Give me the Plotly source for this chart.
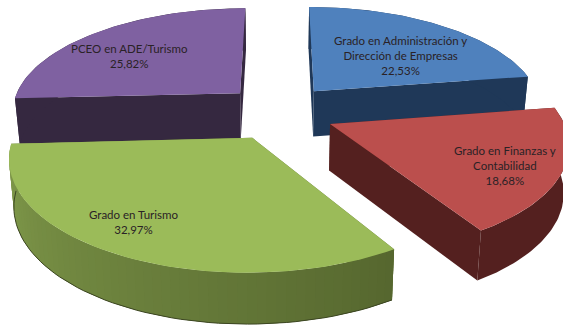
import numpy as np
import plotly.graph_objects as go

labels = ["Grado en Administración y<br>Dirección de Empresas", "Grado en Finanzas y<br>Contabilidad", "Grado en Turismo", "PCEO en ADE/Turismo"]
values = [22.53, 18.68, 32.97, 25.82]
value_text = ["22,53%", "18,68%", "32,97%", "25,82%"]
top_colors = ["#4f81bd", "#bb4f4d", "#9bbb59", "#7f61a1"]
side_colors = ["#1f3858", "#54201f", "#5f7235", "#352840"]
label_pos = [(400, 55), (505, 165), (133, 222), (129, 56)]
draw_order = [3, 0, 2, 1]

# projection of the pie plane
CX, CY = 279, 112
SX, SY, K = 230, 104, 0.16
EXPLODE_X, EXPLODE_Y = 0.24, 0.27
DEPTH, SHRINK = 46, 0.018


def project(u, v, low=False):
    s = 1 / (1 + K * v)
    x = CX + SX * u * s
    y = CY - SY * v * s
    if low:
        x = CX + (x - CX) * (1 - SHRINK)
        y = y + DEPTH * s ** 0.5
    return x, y


def wedge(a0, a1):
    th = np.linspace(a0, a1, 61)
    mid = (a0 + a1) / 2
    ax, ay = EXPLODE_X * np.sin(mid), EXPLODE_Y * np.cos(mid)
    return ax, ay, ax + np.sin(th), ay + np.cos(th)


def mix(c1, c2, t):
    a = [int(c1[i:i + 2], 16) for i in (1, 3, 5)]
    b = [int(c2[i:i + 2], 16) for i in (1, 3, 5)]
    return "rgb(%d,%d,%d)" % tuple(a[i] + (b[i] - a[i]) * t for i in range(3))


def poly(fig, x, y, color):
    fig.add_trace(go.Scatter(x=list(x), y=list(y), mode="lines", fill="toself", fillcolor=color,
                             line=dict(width=0), hoverinfo="skip", showlegend=False))


fig = go.Figure()
edges = np.cumsum([0] + values) / sum(values) * 2 * np.pi
for i in draw_order:
    ax, ay, us, vs = wedge(edges[i], edges[i + 1])
    tx, ty = project(us, vs)
    bx, by = project(us, vs, True)
    pax, pay = project(ax, ay)
    qax, qay = project(ax, ay, True)
    # cut walls
    poly(fig, [pax, tx[0], bx[0], qax], [pay, ty[0], by[0], qay], side_colors[i])
    poly(fig, [pax, tx[-1], bx[-1], qax], [pay, ty[-1], by[-1], qay], side_colors[i])
    # outer wall; the green one is shaded along the arc, segments overlap to hide seams
    n = len(tx)
    if i == 2:
        for j in range(n - 1, 0, -1):
            k = max(j - 2, 0)
            c = mix("#56672f", "#829c4c", j / (n - 1))
            poly(fig, [tx[j], tx[k], bx[k], bx[j]], [ty[j], ty[k], by[k], by[j]], c)
        fig.add_trace(go.Scatter(x=list(bx), y=list(by), mode="lines", hoverinfo="skip", showlegend=False,
                                 line=dict(color="#3c4622", width=1)))
    else:
        poly(fig, [*tx, *bx[::-1]], [*ty, *by[::-1]], side_colors[i])
    # top face
    poly(fig, [pax, *tx], [pay, *ty], top_colors[i])

for lab, val, (x, y) in zip(labels, value_text, label_pos):
    fig.add_annotation(x=x, y=y, text=f"{lab}<br>{val}", showarrow=False,
                       font=dict(family="Lato", size=11.5, color="#2a2226"), align="center")

fig.update_layout(
    width=563, height=329, margin=dict(l=0, r=0, t=0, b=0),
    paper_bgcolor="white", plot_bgcolor="white", showlegend=False,
    xaxis=dict(range=[0, 563], visible=False),
    yaxis=dict(range=[329, 0], visible=False),
)
fig.write_html("out.html", config={"displayModeBar": False},
               post_script="document.body.style.margin='0';document.body.style.overflow='hidden';")
